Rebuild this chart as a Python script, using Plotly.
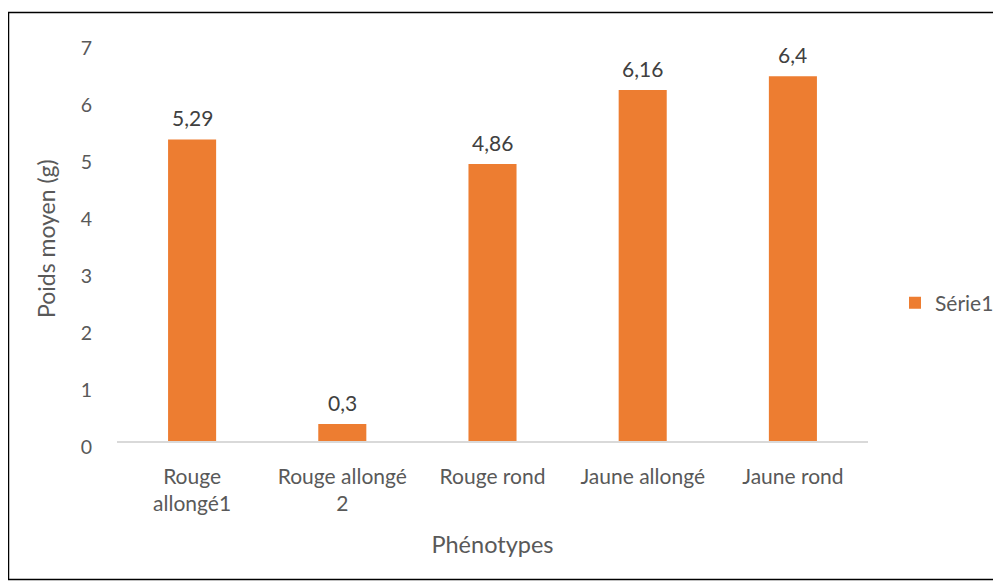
import plotly.graph_objects as go

categories = ["Rouge<br>allongé1", "Rouge allongé<br>2", "Rouge rond", "Jaune allongé", "Jaune rond"]
values = [5.29, 0.3, 4.86, 6.16, 6.4]
labels = [str(v).replace(".", ",") for v in values]
series_name = "Série1"
x_title = "Phénotypes"
y_title = "Poids moyen (g)"

OFF = 8  # browser body margin
W, H = 1001 - OFF, 581 - OFF
L, R, T, B = 117 - OFF, 868 - OFF, 42 - OFF, 441 - OFF
pw, ph = R - L, B - T

def px(x):
    return (x - OFF - L) / pw

def py(y):
    return (B - (y - OFF)) / ph

FONT = "Lato"
GREY = "#595959"
fig = go.Figure()
fig.add_trace(go.Bar(
    x=categories, y=values, name=series_name,
    marker=dict(color="#ED7D31", line=dict(width=0)),
    showlegend=True,
))

annotations = [
    dict(x=c, y=v, text=t, xref="x", yref="y", showarrow=False,
         yanchor="bottom", yshift=7, font=dict(size=21, color="#404040", family=FONT))
    for c, v, t in zip(categories, values, labels)
]
annotations.append(dict(text=y_title, xref="paper", yref="paper", x=px(46), y=py(239),
                        xanchor="center", yanchor="middle", textangle=-90, showarrow=False,
                        font=dict(size=23, color=GREY, family=FONT)))

fig.update_layout(
    width=W, height=H,
    margin=dict(l=L, r=W - R, t=T, b=H - B, autoexpand=False),
    paper_bgcolor="white", plot_bgcolor="white",
    font=dict(family=FONT, color=GREY, size=21),
    bargap=0.68,
    showlegend=True,
    legend=dict(x=px(895), y=py(303), xanchor="left", yanchor="middle",
                font=dict(size=21, color=GREY), itemsizing="constant",
                bgcolor="rgba(0,0,0,0)"),
    xaxis=dict(showgrid=False, showline=True, linecolor="#D9D9D9", linewidth=1.5,
               ticks="", tickfont=dict(size=21, color=GREY), ticklabelstandoff=16,
               title=dict(text=x_title, font=dict(size=23.5, color=GREY), standoff=22)),
    yaxis=dict(range=[0, 7], dtick=1, showgrid=False, showline=False, zeroline=False,
               ticks="", tickfont=dict(size=19.5, color=GREY),
               ticklabelstandoff=24, ticklabelshift=6),
    annotations=annotations,
    shapes=[dict(type="rect", xref="paper", yref="paper",
                 x0=px(8.5), x1=px(995.5), y0=py(579.5), y1=py(12.5),
                 line=dict(color="black", width=1.5), fillcolor="rgba(0,0,0,0)", layer="below")],
)

fig.write_html("out.html")
